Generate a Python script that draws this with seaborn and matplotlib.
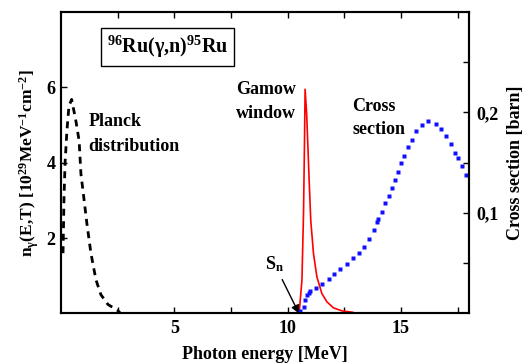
import numpy as np
import pandas as pd
import matplotlib
matplotlib.use("Agg")
import matplotlib.pyplot as plt
import seaborn as sns

# Planck distribution (dashed), n_gamma in 10^29 MeV^-1 cm^-2
planck_e = [0.09, 0.13, 0.18, 0.26, 0.35, 0.47, 0.66, 0.80, 0.88, 0.97, 1.14, 1.32, 1.54, 1.76, 2.07, 2.50, 2.60]
planck_n = [1.6, 3.0, 4.0, 4.84, 5.5, 5.68, 5.1, 4.58, 3.7, 3.26, 2.4, 1.6, 0.9, 0.5, 0.24, 0.08, 0.02]

# Gamow window (red)
gamow_e = [10.48, 10.51, 10.63, 10.70, 10.74, 10.77, 10.84, 10.95, 11.02, 11.14, 11.29, 11.51, 11.73, 12.02, 12.39, 12.89]
gamow_n = [0.0, 0.03, 0.88, 2.66, 4.40, 5.95, 5.28, 3.51, 2.46, 1.59, 0.97, 0.53, 0.31, 0.15, 0.07, 0.03]

# Cross section (blue dots), barn
cs_e = [10.55, 10.73, 10.77, 10.85, 10.92, 10.99, 11.25, 11.53, 11.81, 12.06, 12.31, 12.61, 12.87,
        13.14, 13.37, 13.60, 13.81, 13.96, 14.00, 14.16, 14.31, 14.46, 14.59, 14.74, 14.87, 15.00,
        15.15, 15.32, 15.48, 15.67, 15.92, 16.20, 16.53, 16.75, 16.98, 17.20, 17.38, 17.50, 17.67, 17.85]
cs_b = [0.002, 0.006, 0.013, 0.018, 0.020, 0.022, 0.025, 0.029, 0.034, 0.039, 0.044, 0.049, 0.055,
        0.060, 0.066, 0.074, 0.083, 0.091, 0.094, 0.101, 0.110, 0.117, 0.125, 0.133, 0.141, 0.150,
        0.157, 0.166, 0.173, 0.182, 0.188, 0.192, 0.189, 0.184, 0.177, 0.169, 0.160, 0.155, 0.147, 0.138]

sns.set_theme(style="ticks")
plt.rcParams["font.family"] = ["Liberation Serif", "DejaVu Serif"]
plt.rcParams["font.weight"] = "bold"
plt.rcParams["axes.labelweight"] = "bold"
plt.rcParams["text.color"] = "black"
plt.rcParams["axes.labelcolor"] = "black"
plt.rcParams["xtick.color"] = "black"
plt.rcParams["ytick.color"] = "black"
plt.rcParams["axes.edgecolor"] = "black"
plt.rcParams["mathtext.fontset"] = "custom"
plt.rcParams["mathtext.rm"] = "Liberation Serif:bold"
plt.rcParams["mathtext.it"] = "Liberation Serif:bold"
plt.rcParams["mathtext.bf"] = "Liberation Serif:bold"

fig = plt.figure(figsize=(5.24, 3.63), dpi=100)
ax = fig.add_axes([0.1164, 0.1364, 0.7786, 0.8306])
ax2 = ax.twinx()

planck_df = pd.DataFrame({"E": planck_e, "n": planck_n})
gamow_df = pd.DataFrame({"E": gamow_e, "n": gamow_n})
cs_df = pd.DataFrame({"E": cs_e, "s": cs_b})

sns.lineplot(data=planck_df, x="E", y="n", ax=ax, color="black", lw=2, linestyle=(0, (2.5, 2)))
sns.lineplot(data=gamow_df, x="E", y="n", ax=ax, color="red", lw=1.2)
ax2.plot(cs_df["E"], cs_df["s"], ls="none", marker="s", ms=2.2, color="#1010ff", mec="none")

ax.set_xlim(0, 18)
ax.set_ylim(0, 8)
ax2.set_ylim(0, 0.3)

ax.set_xticks([5, 10, 15])
ax.set_xticks([2.5, 7.5, 12.5, 17.5], minor=True)
ax.set_yticks([2, 4, 6])
ax2.set_yticks([0.1, 0.2])
ax2.set_yticklabels(["0,1", "0,2"])
ax2.set_yticks([0.05, 0.15, 0.25], minor=True)

ax.tick_params(axis="x", which="both", direction="in", top=True, length=4, width=1, labelsize=13, pad=5)
ax.tick_params(axis="y", which="both", direction="in", right=False, length=4, width=1, labelsize=13, pad=4)
ax2.tick_params(axis="y", which="both", direction="in", length=4, width=1, labelsize=13, pad=5)
for a in (ax, ax2):
    for s in a.spines.values():
        s.set_linewidth(1.5)
        s.set_visible(True)

ax.set_xlabel("Photon energy [MeV]", fontsize=13, labelpad=6)
ax.set_ylabel(r"n$_\gamma$(E,T) [10$^{29}$MeV$^{-1}$cm$^{-2}$]", fontsize=12.5, labelpad=4)
ax2.set_ylabel("Cross section [barn]", fontsize=13, labelpad=6)

ax.text(4.7, 7.07, r"$^{96}$Ru(γ,n)$^{95}$Ru", fontsize=14.5, ha="center", va="center",
        bbox=dict(boxstyle="square,pad=0.3", fc="white", ec="black", lw=1))
ax.text(1.2, 5.1, "Planck", fontsize=13, va="center")
ax.text(1.2, 4.43, "distribution", fontsize=13, va="center")
ax.text(7.73, 5.93, "Gamow", fontsize=13, va="center")
ax.text(7.73, 5.3, "window", fontsize=13, va="center")
ax.text(12.84, 5.48, "Cross", fontsize=13, va="center")
ax.text(12.84, 4.88, "section", fontsize=13, va="center")
ax.text(9.0, 1.3, r"S$_\mathrm{n}$", fontsize=13, va="center")
ax.annotate("", xy=(10.5, 0.0), xytext=(9.76, 0.9),
            arrowprops=dict(arrowstyle="-|>", color="black", lw=1, shrinkA=0, shrinkB=0,
                            mutation_scale=12))

fig.savefig("out.png", dpi=100)
